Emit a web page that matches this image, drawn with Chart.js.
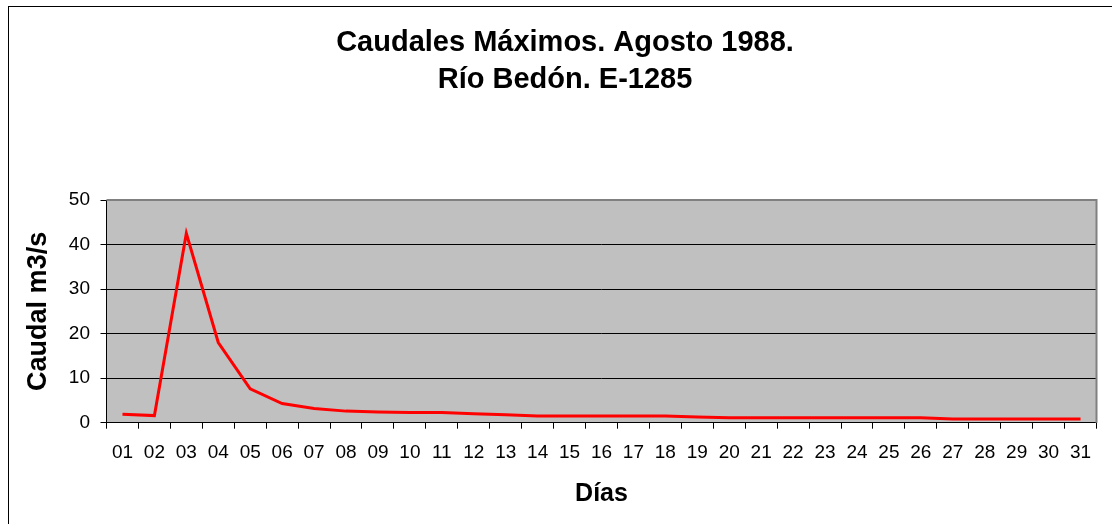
<!DOCTYPE html>
<html>
<head>
<meta charset="utf-8">
<script src="https://cdn.jsdelivr.net/npm/chart.js"></script>
<style>
  html, body { margin: 0; padding: 0; overflow: hidden; background: #fff; }
  canvas { display: block; }
</style>
</head>
<body>
<canvas id="grafico" width="1130" height="524"></canvas>
<script>
// datos
const dias = ['01', '02', '03', '04', '05', '06', '07', '08', '09', '10', '11', '12', '13', '14', '15', '16',
    '17', '18', '19', '20', '21', '22', '23', '24', '25', '26', '27', '28', '29', '30', '31'];
const caudales = [1.9, 1.6, 42.5, 18.0, 7.6, 4.3, 3.2, 2.6, 2.4, 2.3, 2.3, 2.0, 1.8, 1.5, 1.5, 1.5,
    1.5, 1.5, 1.3, 1.1, 1.1, 1.1, 1.1, 1.1, 1.1, 1.1, 0.85, 0.85, 0.85, 0.85, 0.85];
const titulo = ['Caudales Máximos. Agosto 1988.', 'Río Bedón. E-1285'];
const tituloX = 'Días';
const tituloY = 'Caudal m3/s';

const fuente = 'Arial, "Liberation Sans", sans-serif';

// fondo gris del area, marco exterior y borde gris arriba/derecha
const marco = {
    id: 'marco',
    beforeDraw(chart) {
        const ctx = chart.ctx;
        const a = chart.chartArea;
        ctx.save();
        ctx.fillStyle = '#fff';
        ctx.fillRect(0, 0, chart.width, chart.height);
        ctx.strokeStyle = '#000';
        ctx.lineWidth = 1;
        ctx.strokeRect(8.5, 6.5, 1113, 700);
        ctx.fillStyle = '#c0c0c0';
        ctx.fillRect(a.left, a.top, a.right - a.left, a.bottom - a.top);
        ctx.restore();
    },
    afterDatasetsDraw(chart) {
        const ctx = chart.ctx;
        const a = chart.chartArea;
        ctx.save();
        ctx.strokeStyle = '#808080';
        ctx.lineWidth = 2;
        ctx.beginPath();
        ctx.moveTo(a.left, a.top);
        ctx.lineTo(a.right, a.top);
        ctx.lineTo(a.right, a.bottom);
        ctx.stroke();
        ctx.restore();
    }
};

new Chart(document.getElementById('grafico').getContext('2d'), {
    type: 'line',
    data: {
        labels: dias,
        datasets: [{
            label: tituloY,
            data: caudales,
            borderColor: '#ff0000',
            borderWidth: 3,
            pointRadius: 0,
            tension: 0,
            fill: false,
            yAxisID: 'y'
        }]
    },
    options: {
        responsive: false,
        animation: false,
        layout: { padding: { left: 8, right: 8, top: 0, bottom: 0 } },
        plugins: {
            legend: { display: false },
            tooltip: { enabled: false },
            title: {
                display: true,
                text: titulo,
                color: '#000',
                font: { family: fuente, size: 29, weight: 'bold', lineHeight: 1.266 },
                padding: { top: 25, bottom: 101.6 }
            }
        },
        scales: {
            x: {
                offset: true,
                grid: {
                    offset: true,
                    drawOnChartArea: false,
                    tickLength: 6,
                    tickColor: '#000'
                },
                border: { display: true, color: '#000', width: 1 },
                ticks: {
                    color: '#000',
                    padding: 13,
                    maxRotation: 0,
                    autoSkip: false,
                    font: { family: fuente, size: 19 }
                },
                title: {
                    display: true,
                    text: tituloX,
                    color: '#000',
                    font: { family: fuente, size: 25, weight: 'bold' },
                    padding: { top: 0, bottom: 14.4 }
                },
                afterFit(s) { s.height = 101.3; }
            },
            y: {
                position: 'left',
                min: 0,
                max: 50,
                grid: {
                    color: (c) => c.tick && c.tick.value === 50 ? '#808080' : '#000',
                    tickLength: 6,
                    tickColor: '#000',
                    lineWidth: 1
                },
                border: { display: true, color: '#000', width: 1 },
                ticks: {
                    stepSize: 10,
                    color: '#000',
                    padding: 10.5,
                    font: { family: fuente, size: 19 }
                },
                title: {
                    display: true,
                    text: tituloY,
                    color: '#000',
                    font: { family: fuente, size: 27, weight: 'bold' },
                    padding: { top: 14.4, bottom: 0 }
                },
                afterFit(s) { s.width = 98.5; }
            },
            // eje vacio a la derecha para centrar el titulo como en el original
            relleno: {
                position: 'right',
                display: true,
                grid: { display: false },
                border: { display: false },
                ticks: { display: false },
                afterFit(s) { s.width = 25.5; }
            }
        }
    },
    plugins: [marco]
});
</script>
</body>
</html>
